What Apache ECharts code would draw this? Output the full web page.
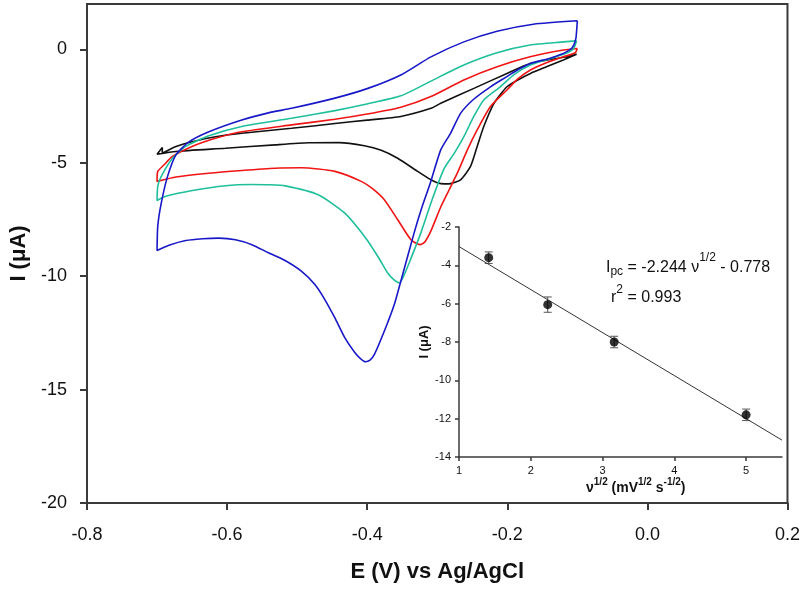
<!DOCTYPE html>
<html>
<head>
<meta charset="utf-8">
<script src="https://cdn.jsdelivr.net/npm/echarts@6/dist/echarts.min.js"></script>
<style>html,body{margin:0;padding:0;background:#fff;}#c{width:803px;height:589px;}</style>
</head>
<body>
<div id="c"></div>
<script>
// Cyclic voltammograms [E (V), I (uA)], traced from right vertex, cathodic sweep then anodic sweep
const blackCV = [
  [-0.101,-0.22],[-0.12,-0.47],[-0.145,-0.78],[-0.167,-1.06],[-0.185,-1.35],[-0.2005,-1.65],[-0.219,-2.38],
  [-0.2336,-3.4],[-0.243,-4.28],[-0.2525,-5.16],[-0.2667,-5.75],[-0.281,-5.92],[-0.29,-5.93],
  [-0.3,-5.88],[-0.309,-5.75],[-0.328,-5.38],[-0.3565,-4.8],[-0.38,-4.45],[-0.404,-4.25],[-0.44,-4.11],
  [-0.484,-4.12],[-0.5315,-4.21],[-0.6024,-4.36],[-0.673,-4.5],[-0.7,-4.62],
  [-0.6925,-4.33],[-0.6925,-4.58],
  [-0.673,-4.28],[-0.65,-4.07],[-0.6166,-3.85],[-0.579,-3.7],[-0.508,-3.48],[-0.446,-3.27],[-0.4,-3.12],
  [-0.352,-2.96],[-0.309,-2.6],[-0.295,-2.38],[-0.2477,-1.72],[-0.2005,-1.06],[-0.1674,-0.62],[-0.12,-0.35],[-0.101,-0.22]
];
const redCV = [
  [-0.1,0.04],[-0.103,-0.15],[-0.12,-0.33],[-0.145,-0.6],[-0.167,-0.91],[-0.185,-1.3],[-0.2005,-1.79],
  [-0.224,-2.52],[-0.243,-3.55],[-0.257,-4.43],[-0.2714,-5.46],[-0.283,-6.19],[-0.295,-6.95],[-0.309,-8.0],
  [-0.318,-8.5],[-0.3248,-8.61],[-0.3376,-8.39],[-0.3565,-7.51],[-0.3755,-6.63],[-0.392,-6.15],[-0.4085,-5.82],
  [-0.446,-5.38],[-0.4936,-5.22],[-0.5315,-5.24],[-0.579,-5.34],[-0.626,-5.46],[-0.673,-5.63],[-0.7,-5.82],
  [-0.699,-5.38],[-0.69,-5.09],[-0.678,-4.72],[-0.65,-4.28],[-0.6166,-3.92],[-0.579,-3.63],[-0.508,-3.33],
  [-0.446,-3.08],[-0.4,-2.85],[-0.352,-2.55],[-0.309,-2.08],[-0.262,-1.35],[-0.2146,-0.77],[-0.1674,-0.33],
  [-0.12,-0.03],[-0.1,0.04]
];
const greenCV = [
  [-0.101,0.38],[-0.105,0.05],[-0.112,-0.12],[-0.12,-0.22],[-0.14,-0.42],[-0.167,-0.69],[-0.19,-1.1],
  [-0.21,-1.65],[-0.2336,-2.23],[-0.248,-2.97],[-0.262,-3.85],[-0.276,-4.6],[-0.29,-5.25],[-0.307,-6.6],
  [-0.3234,-8.09],[-0.34,-9.41],[-0.348,-10.0],[-0.354,-10.29],[-0.362,-10.15],[-0.371,-9.85],[-0.385,-9.12],
  [-0.404,-8.24],[-0.432,-7.22],[-0.47,-6.41],[-0.517,-6.02],[-0.541,-5.97],[-0.5645,-5.96],[-0.6024,-6.01],
  [-0.6496,-6.22],[-0.6875,-6.48],[-0.7,-6.66],
  [-0.699,-6.04],[-0.694,-5.6],[-0.678,-4.8],[-0.659,-4.28],[-0.626,-3.81],[-0.579,-3.4],[-0.508,-3.04],
  [-0.446,-2.7],[-0.399,-2.4],[-0.352,-2.05],[-0.309,-1.4],[-0.262,-0.69],[-0.2146,-0.15],[-0.1674,0.19],
  [-0.12,0.33],[-0.101,0.38]
];
const blueCV = [
  [-0.1,1.26],[-0.102,0.5],[-0.105,0.2],[-0.108,0.05],[-0.115,-0.1],[-0.12,-0.18],[-0.14,-0.4],[-0.167,-0.62],
  [-0.185,-0.9],[-0.2005,-1.2],[-0.224,-1.65],[-0.248,-2.2],[-0.2667,-2.82],[-0.281,-3.7],[-0.295,-4.43],
  [-0.31,-5.9],[-0.323,-7.07],[-0.333,-8.09],[-0.352,-10.22],[-0.3613,-11.25],[-0.3755,-12.42],[-0.3897,-13.45],
  [-0.396,-13.7],[-0.4024,-13.77],[-0.41,-13.62],[-0.418,-13.35],[-0.432,-12.71],[-0.4463,-11.83],[-0.4605,-11.03],
  [-0.4747,-10.37],[-0.494,-9.78],[-0.5173,-9.31],[-0.541,-8.97],[-0.5645,-8.61],[-0.588,-8.39],[-0.612,-8.32],
  [-0.635,-8.35],[-0.659,-8.43],[-0.683,-8.64],[-0.7,-8.87],
  [-0.699,-7.8],[-0.694,-6.78],[-0.685,-5.6],[-0.673,-4.65],[-0.654,-4.07],[-0.626,-3.63],[-0.579,-3.11],
  [-0.541,-2.8],[-0.508,-2.6],[-0.446,-2.15],[-0.399,-1.72],[-0.352,-1.13],[-0.309,-0.33],[-0.262,0.33],
  [-0.2146,0.8],[-0.1627,1.11],[-0.1,1.26]
];
const mainYTicks = [-20,-15,-10,-5,0];

// Inset: peak current vs square root of scan rate
const sqrtRate = [1.414, 2.236, 3.162, 5.0];
const peakI = [-3.6, -6.05, -8.0, -11.8];
const peakErr = [0.3, 0.4, 0.3, 0.3];
const fitLine = [[1,-3.02],[5.5,-13.12]];
const insetXTicks = [1,2,3,4,5];

const FONT = '"Liberation Sans", Arial, sans-serif';
const axisCol = '#3a3a3a';

const errData = sqrtRate.map((x,i)=>[x, peakI[i]-peakErr[i], peakI[i]+peakErr[i]]);
const scatterData = sqrtRate.map((x,i)=>[x, peakI[i]]);

const chart = echarts.init(document.getElementById('c'), null, {renderer:'canvas'});
chart.setOption({
  animation: false,
  backgroundColor: '#fff',
  grid: [
    {left:84, right:14, top:4, bottom:86, show:true, borderColor:axisCol, borderWidth:2, backgroundColor:'transparent'},
    {left:459, right:21, top:227, bottom:132, show:false}
  ],
  xAxis: [
    {gridIndex:0, type:'value', min:-0.8, max:0.2, interval:0.2,
     name:'E (V) vs Ag/AgCl', nameLocation:'middle', nameGap:58,
     nameTextStyle:{fontFamily:FONT, fontSize:22, fontWeight:'bold', color:'#111'},
     axisLine:{show:true, onZero:false, lineStyle:{color:axisCol, width:2}},
     axisTick:{show:true, inside:false, length:7, lineStyle:{color:axisCol, width:2}},
     axisLabel:{fontFamily:FONT, fontSize:18, color:'#111', margin:23,
       formatter:(v)=>v.toFixed(1)},
     splitLine:{show:false}},
    {gridIndex:1, type:'value', min:1, max:5.5,
     axisLine:{show:true, onZero:false, lineStyle:{color:axisCol, width:1.5}},
     axisTick:{show:true, length:4, customValues:insetXTicks, lineStyle:{color:axisCol, width:1.5}},
     axisLabel:{fontFamily:FONT, fontSize:11, color:'#111', margin:8, customValues:insetXTicks},
     splitLine:{show:false}}
  ],
  yAxis: [
    {gridIndex:0, type:'value', min:-20, max:2,
     name:'I (\u03bcA)', nameLocation:'middle', nameGap:57, nameRotate:90,
     nameTextStyle:{fontFamily:FONT, fontSize:22, fontWeight:'bold', color:'#111'},
     axisLine:{show:true, onZero:false, lineStyle:{color:axisCol, width:2}},
     axisTick:{show:true, length:7, customValues:mainYTicks, lineStyle:{color:axisCol, width:2}},
     axisLabel:{fontFamily:FONT, fontSize:18, color:'#111', margin:20, customValues:mainYTicks},
     splitLine:{show:false}},
    {gridIndex:1, type:'value', min:-14, max:-2, interval:2,
     name:'I (\u03bcA)', nameLocation:'middle', nameGap:25, nameRotate:90,
     nameTextStyle:{fontFamily:FONT, fontSize:13, fontWeight:'bold', color:'#111'},
     axisLine:{show:true, onZero:false, lineStyle:{color:axisCol, width:1.5}},
     axisTick:{show:true, length:4, lineStyle:{color:axisCol, width:1.5}},
     axisLabel:{fontFamily:FONT, fontSize:11, color:'#111', margin:8},
     splitLine:{show:false}}
  ],
  series: [
    {type:'line', xAxisIndex:0, yAxisIndex:0, data:blackCV, showSymbol:false, smooth:0.2,
     lineStyle:{color:'#111', width:1.6}},
    {type:'line', xAxisIndex:0, yAxisIndex:0, data:redCV, showSymbol:false, smooth:0.2,
     lineStyle:{color:'#f01414', width:1.6}},
    {type:'line', xAxisIndex:0, yAxisIndex:0, data:greenCV, showSymbol:false, smooth:0.2,
     lineStyle:{color:'#1fbf9c', width:1.6}},
    {type:'line', xAxisIndex:0, yAxisIndex:0, data:blueCV, showSymbol:false, smooth:0.2,
     lineStyle:{color:'#1818c8', width:1.6}},
    {type:'line', xAxisIndex:1, yAxisIndex:1, data:fitLine, showSymbol:false,
     lineStyle:{color:'#333', width:1}},
    {type:'custom', xAxisIndex:1, yAxisIndex:1, data:errData,
     renderItem:(params, api)=>{
       const x = api.value(0);
       const lo = api.coord([x, api.value(1)]);
       const hi = api.coord([x, api.value(2)]);
       const w = 4;
       const st = {stroke:'#555', lineWidth:1};
       return {type:'group', children:[
         {type:'line', shape:{x1:lo[0], y1:lo[1], x2:hi[0], y2:hi[1]}, style:st},
         {type:'line', shape:{x1:lo[0]-w, y1:lo[1], x2:lo[0]+w, y2:lo[1]}, style:st},
         {type:'line', shape:{x1:hi[0]-w, y1:hi[1], x2:hi[0]+w, y2:hi[1]}, style:st}
       ]};
     }},
    {type:'scatter', xAxisIndex:1, yAxisIndex:1, data:scatterData, symbol:'circle', symbolSize:9,
     itemStyle:{color:'#000'}, z:5}
  ],
  graphic: [
    {type:'text', left:606, top:252, style:{
      text:'{a|I}{sub|pc}{a| = -2.244 \u03bd}{sup|1/2}{a| - 0.778}',
      rich:{
        a:{fontFamily:FONT, fontSize:16, lineHeight:26, fill:'#111', verticalAlign:'bottom', padding:[0,0,2,0]},
        sub:{fontFamily:FONT, fontSize:12, lineHeight:14, fill:'#111', verticalAlign:'bottom'},
        sup:{fontFamily:FONT, fontSize:12, lineHeight:14, fill:'#111', verticalAlign:'top'}
      }}},
    {type:'text', left:611, top:284, style:{
      text:'{a|r}{sup|2}{a| = 0.993}',
      rich:{
        a:{fontFamily:FONT, fontSize:16, lineHeight:22, fill:'#111', verticalAlign:'bottom'},
        sup:{fontFamily:FONT, fontSize:12, lineHeight:14, fill:'#111', verticalAlign:'top'}
      }}},
    {type:'text', left:586, top:477, style:{
      text:'{a|\u03bd}{sup|1/2}{a| (mV}{sup|1/2}{a| s}{sup|-1/2}{a|)}',
      rich:{
        a:{fontWeight:'bold', fontSize:14, fontFamily:FONT, lineHeight:18, fill:'#111', verticalAlign:'bottom'},
        sup:{fontWeight:'bold', fontSize:10, fontFamily:FONT, lineHeight:11, fill:'#111', verticalAlign:'top'}
      }}}
  ]
});
</script>
</body>
</html>
